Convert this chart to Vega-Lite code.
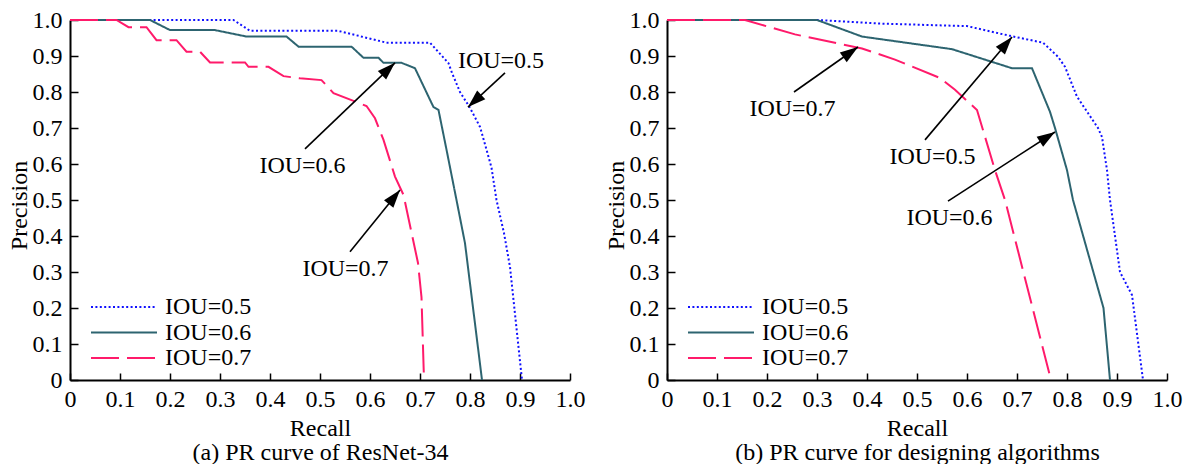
{
  "$schema": "https://vega.github.io/schema/vega-lite/v6.json",
  "padding": {"left": 7, "top": 8, "right": 5, "bottom": 0},
  "background": "white",
  "spacing": 19,
  "config": {
    "font": "Liberation Serif, Times New Roman, serif",
    "view": {"stroke": null},
    "axis": {
      "grid": false,
      "domainColor": "black",
      "domainWidth": 2,
      "tickColor": "black",
      "tickWidth": 1.5,
      "labelFont": "Liberation Serif, Times New Roman, serif",
      "labelFontSize": 24,
      "labelColor": "black",
      "labelFlush": false,
      "labelOverlap": false,
      "titleFont": "Liberation Serif, Times New Roman, serif",
      "titleFontSize": 24,
      "titleFontWeight": "normal",
      "titleColor": "black"
    },
    "legend": {
      "orient": "none",
      "legendX": 20,
      "legendY": 275,
      "title": null,
      "symbolType": "stroke",
      "symbolSize": 4356,
      "symbolStrokeWidth": 2,
      "labelFont": "Liberation Serif, Times New Roman, serif",
      "labelFontSize": 24,
      "labelColor": "black",
      "labelOffset": 7,
      "clipHeight": 24,
      "rowPadding": 1.5,
      "padding": 0
    }
  },
  "datasets": {
    "curves": [
      {"panel": "a", "iou": "IOU=0.5", "r": 0, "p": 1},
      {"panel": "a", "iou": "IOU=0.5", "r": 0.327, "p": 1},
      {"panel": "a", "iou": "IOU=0.5", "r": 0.36, "p": 0.97},
      {"panel": "a", "iou": "IOU=0.5", "r": 0.536, "p": 0.97},
      {"panel": "a", "iou": "IOU=0.5", "r": 0.633, "p": 0.937},
      {"panel": "a", "iou": "IOU=0.5", "r": 0.72, "p": 0.937},
      {"panel": "a", "iou": "IOU=0.5", "r": 0.757, "p": 0.88},
      {"panel": "a", "iou": "IOU=0.5", "r": 0.764, "p": 0.853},
      {"panel": "a", "iou": "IOU=0.5", "r": 0.78, "p": 0.8},
      {"panel": "a", "iou": "IOU=0.5", "r": 0.8, "p": 0.756},
      {"panel": "a", "iou": "IOU=0.5", "r": 0.82, "p": 0.703},
      {"panel": "a", "iou": "IOU=0.5", "r": 0.833, "p": 0.64},
      {"panel": "a", "iou": "IOU=0.5", "r": 0.843, "p": 0.59},
      {"panel": "a", "iou": "IOU=0.5", "r": 0.853, "p": 0.5},
      {"panel": "a", "iou": "IOU=0.5", "r": 0.868, "p": 0.408},
      {"panel": "a", "iou": "IOU=0.5", "r": 0.88, "p": 0.314},
      {"panel": "a", "iou": "IOU=0.5", "r": 0.904, "p": 0},

      {"panel": "a", "iou": "IOU=0.6", "r": 0, "p": 1},
      {"panel": "a", "iou": "IOU=0.6", "r": 0.16, "p": 1},
      {"panel": "a", "iou": "IOU=0.6", "r": 0.2, "p": 0.972},
      {"panel": "a", "iou": "IOU=0.6", "r": 0.29, "p": 0.972},
      {"panel": "a", "iou": "IOU=0.6", "r": 0.353, "p": 0.954},
      {"panel": "a", "iou": "IOU=0.6", "r": 0.433, "p": 0.954},
      {"panel": "a", "iou": "IOU=0.6", "r": 0.457, "p": 0.926},
      {"panel": "a", "iou": "IOU=0.6", "r": 0.563, "p": 0.926},
      {"panel": "a", "iou": "IOU=0.6", "r": 0.587, "p": 0.895},
      {"panel": "a", "iou": "IOU=0.6", "r": 0.617, "p": 0.895},
      {"panel": "a", "iou": "IOU=0.6", "r": 0.627, "p": 0.881},
      {"panel": "a", "iou": "IOU=0.6", "r": 0.663, "p": 0.881},
      {"panel": "a", "iou": "IOU=0.6", "r": 0.69, "p": 0.866},
      {"panel": "a", "iou": "IOU=0.6", "r": 0.727, "p": 0.758},
      {"panel": "a", "iou": "IOU=0.6", "r": 0.737, "p": 0.75},
      {"panel": "a", "iou": "IOU=0.6", "r": 0.753, "p": 0.64},
      {"panel": "a", "iou": "IOU=0.6", "r": 0.773, "p": 0.5},
      {"panel": "a", "iou": "IOU=0.6", "r": 0.79, "p": 0.38},
      {"panel": "a", "iou": "IOU=0.6", "r": 0.824, "p": 0},

      {"panel": "a", "iou": "IOU=0.7", "r": 0, "p": 1},
      {"panel": "a", "iou": "IOU=0.7", "r": 0.093, "p": 1},
      {"panel": "a", "iou": "IOU=0.7", "r": 0.117, "p": 0.98},
      {"panel": "a", "iou": "IOU=0.7", "r": 0.153, "p": 0.98},
      {"panel": "a", "iou": "IOU=0.7", "r": 0.173, "p": 0.944},
      {"panel": "a", "iou": "IOU=0.7", "r": 0.213, "p": 0.944},
      {"panel": "a", "iou": "IOU=0.7", "r": 0.233, "p": 0.912},
      {"panel": "a", "iou": "IOU=0.7", "r": 0.26, "p": 0.912},
      {"panel": "a", "iou": "IOU=0.7", "r": 0.28, "p": 0.882},
      {"panel": "a", "iou": "IOU=0.7", "r": 0.35, "p": 0.882},
      {"panel": "a", "iou": "IOU=0.7", "r": 0.357, "p": 0.87},
      {"panel": "a", "iou": "IOU=0.7", "r": 0.397, "p": 0.87},
      {"panel": "a", "iou": "IOU=0.7", "r": 0.427, "p": 0.844},
      {"panel": "a", "iou": "IOU=0.7", "r": 0.46, "p": 0.838},
      {"panel": "a", "iou": "IOU=0.7", "r": 0.503, "p": 0.833},
      {"panel": "a", "iou": "IOU=0.7", "r": 0.527, "p": 0.797},
      {"panel": "a", "iou": "IOU=0.7", "r": 0.593, "p": 0.761},
      {"panel": "a", "iou": "IOU=0.7", "r": 0.61, "p": 0.727},
      {"panel": "a", "iou": "IOU=0.7", "r": 0.627, "p": 0.667},
      {"panel": "a", "iou": "IOU=0.7", "r": 0.65, "p": 0.565},
      {"panel": "a", "iou": "IOU=0.7", "r": 0.667, "p": 0.514},
      {"panel": "a", "iou": "IOU=0.7", "r": 0.696, "p": 0.325},
      {"panel": "a", "iou": "IOU=0.7", "r": 0.703, "p": 0.23},
      {"panel": "a", "iou": "IOU=0.7", "r": 0.708, "p": 0},

      {"panel": "b", "iou": "IOU=0.5", "r": 0, "p": 1},
      {"panel": "b", "iou": "IOU=0.5", "r": 0.3, "p": 1},
      {"panel": "b", "iou": "IOU=0.5", "r": 0.426, "p": 0.99},
      {"panel": "b", "iou": "IOU=0.5", "r": 0.6, "p": 0.983},
      {"panel": "b", "iou": "IOU=0.5", "r": 0.686, "p": 0.956},
      {"panel": "b", "iou": "IOU=0.5", "r": 0.752, "p": 0.937},
      {"panel": "b", "iou": "IOU=0.5", "r": 0.782, "p": 0.898},
      {"panel": "b", "iou": "IOU=0.5", "r": 0.796, "p": 0.87},
      {"panel": "b", "iou": "IOU=0.5", "r": 0.82, "p": 0.787},
      {"panel": "b", "iou": "IOU=0.5", "r": 0.862, "p": 0.7},
      {"panel": "b", "iou": "IOU=0.5", "r": 0.87, "p": 0.675},
      {"panel": "b", "iou": "IOU=0.5", "r": 0.88, "p": 0.583},
      {"panel": "b", "iou": "IOU=0.5", "r": 0.886, "p": 0.5},
      {"panel": "b", "iou": "IOU=0.5", "r": 0.906, "p": 0.3},
      {"panel": "b", "iou": "IOU=0.5", "r": 0.93, "p": 0.236},
      {"panel": "b", "iou": "IOU=0.5", "r": 0.952, "p": 0},

      {"panel": "b", "iou": "IOU=0.6", "r": 0, "p": 1},
      {"panel": "b", "iou": "IOU=0.6", "r": 0.3, "p": 1},
      {"panel": "b", "iou": "IOU=0.6", "r": 0.39, "p": 0.954},
      {"panel": "b", "iou": "IOU=0.6", "r": 0.57, "p": 0.919},
      {"panel": "b", "iou": "IOU=0.6", "r": 0.69, "p": 0.866},
      {"panel": "b", "iou": "IOU=0.6", "r": 0.73, "p": 0.866},
      {"panel": "b", "iou": "IOU=0.6", "r": 0.766, "p": 0.745},
      {"panel": "b", "iou": "IOU=0.6", "r": 0.776, "p": 0.7},
      {"panel": "b", "iou": "IOU=0.6", "r": 0.8, "p": 0.583},
      {"panel": "b", "iou": "IOU=0.6", "r": 0.812, "p": 0.5},
      {"panel": "b", "iou": "IOU=0.6", "r": 0.873, "p": 0.2},
      {"panel": "b", "iou": "IOU=0.6", "r": 0.886, "p": 0},

      {"panel": "b", "iou": "IOU=0.7", "r": 0, "p": 1},
      {"panel": "b", "iou": "IOU=0.7", "r": 0.156, "p": 1},
      {"panel": "b", "iou": "IOU=0.7", "r": 0.256, "p": 0.96},
      {"panel": "b", "iou": "IOU=0.7", "r": 0.39, "p": 0.921},
      {"panel": "b", "iou": "IOU=0.7", "r": 0.456, "p": 0.89},
      {"panel": "b", "iou": "IOU=0.7", "r": 0.546, "p": 0.839},
      {"panel": "b", "iou": "IOU=0.7", "r": 0.576, "p": 0.806},
      {"panel": "b", "iou": "IOU=0.7", "r": 0.62, "p": 0.75},
      {"panel": "b", "iou": "IOU=0.7", "r": 0.656, "p": 0.583},
      {"panel": "b", "iou": "IOU=0.7", "r": 0.676, "p": 0.5},
      {"panel": "b", "iou": "IOU=0.7", "r": 0.768, "p": 0}
    ],
    "notes": [
      {"panel": "a", "label": "IOU=0.5", "r": 0.862, "p": 0.867},
      {"panel": "a", "label": "IOU=0.6", "r": 0.465, "p": 0.575},
      {"panel": "a", "label": "IOU=0.7", "r": 0.551, "p": 0.289},
      {"panel": "b", "label": "IOU=0.7", "r": 0.251, "p": 0.733},
      {"panel": "b", "label": "IOU=0.5", "r": 0.531, "p": 0.6},
      {"panel": "b", "label": "IOU=0.6", "r": 0.565, "p": 0.431}
    ],
    "arrows": [
      {"panel": "a", "r0": 0.87, "p0": 0.853, "r": 0.796, "p": 0.758},
      {"panel": "a", "r0": 0.47, "p0": 0.642, "r": 0.65, "p": 0.881},
      {"panel": "a", "r0": 0.56, "p0": 0.356, "r": 0.66, "p": 0.528},
      {"panel": "b", "r0": 0.254, "p0": 0.8, "r": 0.382, "p": 0.925},
      {"panel": "b", "r0": 0.516, "p0": 0.667, "r": 0.69, "p": 0.953},
      {"panel": "b", "r0": 0.562, "p0": 0.497, "r": 0.776, "p": 0.689}
    ]
  },
  "resolve": {"legend": {"color": "independent", "strokeDash": "independent"}},
  "hconcat": [
    {
      "width": 500,
      "height": 360,
      "encoding": {
        "x": {"field": "r", "type": "quantitative",
          "scale": {"domain": [0, 1], "nice": false},
          "axis": {"values": [0, 0.1, 0.2, 0.3, 0.4, 0.5, 0.6, 0.7, 0.8, 0.9, 1],
            "labelExpr": "datum.value == 0 ? '0' : format(datum.value, '.1f')",
            "tickSize": -7, "labelPadding": 14,
            "title": ["Recall", "(a) PR curve of ResNet-34"],
            "titleX": 250, "titleY": 55, "titleBaseline": "alphabetic", "titleLineHeight": 24}},
        "y": {"field": "p", "type": "quantitative",
          "scale": {"domain": [0, 1], "nice": false},
          "axis": {"values": [0, 0.1, 0.2, 0.3, 0.4, 0.5, 0.6, 0.7, 0.8, 0.9, 1],
            "labelExpr": "datum.value == 0 ? '0' : format(datum.value, '.1f')",
            "tickSize": -8, "labelPadding": 16,
            "title": "Precision", "titleX": -44, "titleY": 185, "titleAngle": -90,
            "titleAlign": "center", "titleBaseline": "alphabetic"}}
      },
      "layer": [
        {
          "data": {"name": "curves"},
          "transform": [{"filter": "datum.panel == 'a'"}],
          "mark": {"type": "line", "strokeWidth": 2},
          "encoding": {
            "color": {"field": "iou", "type": "nominal",
              "scale": {"domain": ["IOU=0.5", "IOU=0.6", "IOU=0.7"], "range": ["#1010ff", "#2d6470", "#ff1a6a"]}},
            "strokeDash": {"field": "iou", "type": "nominal",
              "scale": {"domain": ["IOU=0.5", "IOU=0.6", "IOU=0.7"], "range": [[2, 2.4], [1, 0], [28, 8]]}}
          }
        },
        {
          "data": {"name": "arrows"},
          "transform": [{"filter": "datum.panel == 'a'"}],
          "mark": {"type": "rule", "color": "black", "strokeWidth": 1.6},
          "encoding": {
            "x2": {"field": "r0"},
            "y2": {"field": "p0"}
          }
        },
        {
          "data": {"name": "arrows"},
          "transform": [
            {"filter": "datum.panel == 'a'"},
            {"calculate": "atan2((datum.r - datum.r0) * 500, (datum.p - datum.p0) * 360) * 180 / PI", "as": "ang"}
          ],
          "mark": {"type": "point", "shape": "M0,0L0.5,1.5L-0.5,1.5Z", "filled": true, "color": "black", "opacity": 1, "size": 576, "strokeWidth": 0},
          "encoding": {
            "angle": {"field": "ang", "type": "quantitative", "scale": null}
          }
        },
        {
          "data": {"name": "notes"},
          "transform": [{"filter": "datum.panel == 'a'"}],
          "mark": {"type": "text", "font": "Liberation Serif, Times New Roman, serif", "fontSize": 24, "color": "black", "align": "center", "baseline": "alphabetic"},
          "encoding": {
            "text": {"field": "label"}
          }
        }
      ]
    },
    {
      "width": 500,
      "height": 360,
      "encoding": {
        "x": {"field": "r", "type": "quantitative",
          "scale": {"domain": [0, 1], "nice": false},
          "axis": {"values": [0, 0.1, 0.2, 0.3, 0.4, 0.5, 0.6, 0.7, 0.8, 0.9, 1],
            "labelExpr": "datum.value == 0 ? '0' : format(datum.value, '.1f')",
            "tickSize": -7, "labelPadding": 14,
            "title": ["Recall", "(b) PR curve for designing algorithms"],
            "titleX": 250, "titleY": 55, "titleBaseline": "alphabetic", "titleLineHeight": 24}},
        "y": {"field": "p", "type": "quantitative",
          "scale": {"domain": [0, 1], "nice": false},
          "axis": {"values": [0, 0.1, 0.2, 0.3, 0.4, 0.5, 0.6, 0.7, 0.8, 0.9, 1],
            "labelExpr": "datum.value == 0 ? '0' : format(datum.value, '.1f')",
            "tickSize": -8, "labelPadding": 16,
            "title": "Precision", "titleX": -44, "titleY": 185, "titleAngle": -90,
            "titleAlign": "center", "titleBaseline": "alphabetic"}}
      },
      "layer": [
        {
          "data": {"name": "curves"},
          "transform": [{"filter": "datum.panel == 'b'"}],
          "mark": {"type": "line", "strokeWidth": 2},
          "encoding": {
            "color": {"field": "iou", "type": "nominal",
              "scale": {"domain": ["IOU=0.5", "IOU=0.6", "IOU=0.7"], "range": ["#1010ff", "#2d6470", "#ff1a6a"]}},
            "strokeDash": {"field": "iou", "type": "nominal",
              "scale": {"domain": ["IOU=0.5", "IOU=0.6", "IOU=0.7"], "range": [[2, 2.4], [1, 0], [28, 8]]}}
          }
        },
        {
          "data": {"name": "arrows"},
          "transform": [{"filter": "datum.panel == 'b'"}],
          "mark": {"type": "rule", "color": "black", "strokeWidth": 1.6},
          "encoding": {
            "x2": {"field": "r0"},
            "y2": {"field": "p0"}
          }
        },
        {
          "data": {"name": "arrows"},
          "transform": [
            {"filter": "datum.panel == 'b'"},
            {"calculate": "atan2((datum.r - datum.r0) * 500, (datum.p - datum.p0) * 360) * 180 / PI", "as": "ang"}
          ],
          "mark": {"type": "point", "shape": "M0,0L0.5,1.5L-0.5,1.5Z", "filled": true, "color": "black", "opacity": 1, "size": 576, "strokeWidth": 0},
          "encoding": {
            "angle": {"field": "ang", "type": "quantitative", "scale": null}
          }
        },
        {
          "data": {"name": "notes"},
          "transform": [{"filter": "datum.panel == 'b'"}],
          "mark": {"type": "text", "font": "Liberation Serif, Times New Roman, serif", "fontSize": 24, "color": "black", "align": "center", "baseline": "alphabetic"},
          "encoding": {
            "text": {"field": "label"}
          }
        }
      ]
    }
  ]
}
